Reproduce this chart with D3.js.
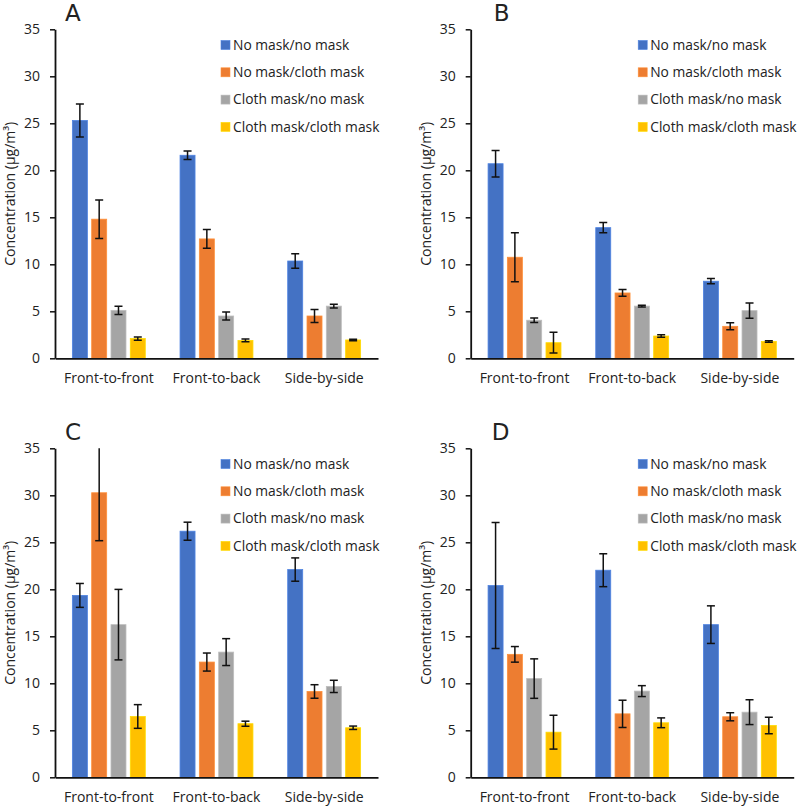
<!DOCTYPE html>
<html>
<head>
<meta charset="utf-8">
<script src="https://cdn.jsdelivr.net/npm/d3@7"></script>
<style>
  body { margin: 0; background: #fff; }
  text { font-family: "Open Sans", "Noto Sans", sans-serif; fill: #222; }
</style>
</head>
<body>
<div id="chart"></div>
<script>
// categories and series
var categories = ["Front-to-front", "Front-to-back", "Side-by-side"];
var seriesNames = ["No mask/no mask", "No mask/cloth mask", "Cloth mask/no mask", "Cloth mask/cloth mask"];
var colors = ["#4472C4", "#ED7D31", "#A5A5A5", "#FFC000"];
var yTicks = [0, 5, 10, 15, 20, 25, 30, 35];

// values per series (rows) x category (cols), with +/- error
var valuesA = [[25.3, 21.6, 10.35], [14.8, 12.7, 4.5], [5.1, 4.5, 5.55], [2.1, 1.9, 1.95]];
var errorsA = [[1.75, 0.45, 0.77], [2.05, 1.0, 0.7], [0.45, 0.43, 0.2], [0.17, 0.15, 0.08]];

var valuesB = [[20.7, 13.9, 8.2], [10.75, 6.95, 3.4], [4.05, 5.55, 5.07], [1.66, 2.37, 1.8]];
var errorsB = [[1.4, 0.55, 0.28], [2.6, 0.36, 0.37], [0.23, 0.1, 0.8], [1.1, 0.13, 0.08]];

var valuesC = [[19.35, 26.18, 22.1], [30.27, 12.26, 9.13], [16.24, 13.32, 9.67], [6.47, 5.7, 5.27]];
var errorsC = [[1.27, 0.96, 1.24], [5.1, 0.96, 0.72], [3.75, 1.43, 0.65], [1.26, 0.27, 0.18]];

var valuesD = [[20.4, 22.03, 16.24], [13.08, 6.75, 6.44], [10.5, 9.17, 6.93], [4.8, 5.8, 5.52]];
var errorsD = [[6.7, 1.75, 2.0], [0.83, 1.45, 0.43], [2.1, 0.58, 1.32], [1.8, 0.52, 0.88]];

var panels = [
  {letter: "A", left: 55, top: 29.3, letterX: 10, legendX: 166, values: valuesA, errors: errorsA},
  {letter: "B", left: 470.7, top: 29.3, letterX: 23, legendX: 167.5, values: valuesB, errors: errorsB},
  {letter: "C", left: 55, top: 448.3, letterX: 10, legendX: 166, values: valuesC, errors: errorsC},
  {letter: "D", left: 470.7, top: 448.3, letterX: 21, legendX: 167.5, values: valuesD, errors: errorsD}
];

var w_chart = 323, h_chart = 329;

var svg = d3.select("#chart").append("svg")
  .attr("width", 800)
  .attr("height", 806);

var defs = svg.append("defs");
defs.append("clipPath").attr("id", "plotClip")
  .append("rect").attr("x", -5).attr("y", 0).attr("width", w_chart + 10).attr("height", h_chart);

var x0 = d3.scaleBand().domain(categories).range([0, w_chart]).paddingInner(0).paddingOuter(0);
var x1 = d3.scaleBand().domain(d3.range(seriesNames.length)).range([0, x0.bandwidth()])
  .paddingInner(0.223).paddingOuter(0.9);
var y = d3.scaleLinear().domain([0, 35]).range([h_chart, 0]);

panels.forEach(function(p) {
  var g = svg.append("g").attr("transform", "translate(" + p.left + "," + p.top + ")");

  // flatten
  var rows = [];
  p.values.forEach(function(vals, s) {
    vals.forEach(function(v, c) {
      rows.push({s: s, cat: categories[c], v: v, e: p.errors[s][c]});
    });
  });

  // bars
  g.append("g").selectAll("rect")
    .data(rows)
    .join("rect")
    .attr("x", d => x0(d.cat) + x1(d.s))
    .attr("y", d => y(d.v))
    .attr("width", x1.bandwidth())
    .attr("height", d => y(0) - y(d.v))
    .style("fill", d => colors[d.s])
    .style("stroke", d => d3.color(colors[d.s]).brighter(0.4))
    .style("stroke-width", 0.8);

  // error bars
  var eb = g.append("g").attr("clip-path", "url(#plotClip)")
    .selectAll("g").data(rows).join("g")
    .attr("transform", d => "translate(" + (x0(d.cat) + x1(d.s) + x1.bandwidth() / 2) + ",0)");
  eb.append("line")
    .attr("y1", d => y(d.v + d.e)).attr("y2", d => y(d.v - d.e))
    .attr("stroke", "#111").attr("stroke-width", 1.5);
  eb.append("line")
    .attr("x1", -4).attr("x2", 4)
    .attr("y1", d => y(d.v + d.e)).attr("y2", d => y(d.v + d.e))
    .attr("stroke", "#111").attr("stroke-width", 1.5);
  eb.append("line")
    .attr("x1", -4).attr("x2", 4)
    .attr("y1", d => y(d.v - d.e)).attr("y2", d => y(d.v - d.e))
    .attr("stroke", "#111").attr("stroke-width", 1.5);

  // y axis
  var yAxis = g.append("g").attr("class", "axis")
    .call(d3.axisLeft(y).tickValues(yTicks).tickSize(5).tickSizeOuter(0).tickPadding(10));
  yAxis.select(".domain").attr("stroke", "#111").attr("stroke-width", 1.8);
  yAxis.selectAll(".tick line").attr("stroke", "#111").attr("stroke-width", 1.5);
  yAxis.selectAll(".tick text").style("font-size", "14px").style("fill", "#222")
    .style("font-family", "'Open Sans', sans-serif");

  // x axis
  var xAxis = g.append("g").attr("transform", "translate(0," + h_chart + ")")
    .call(d3.axisBottom(x0).tickSize(0).tickPadding(15));
  xAxis.select(".domain").attr("stroke", "#111").attr("stroke-width", 1.8);
  xAxis.selectAll(".tick text").style("font-size", "14px").style("fill", "#222")
    .style("font-family", "'Open Sans', sans-serif");

  // y title
  g.append("text")
    .attr("transform", "rotate(-90)")
    .attr("x", -h_chart / 2)
    .attr("y", -55 + 15)
    .style("text-anchor", "middle")
    .style("font-size", "14px")
    .text("Concentration (\u00b5g/m\u00b3)");

  // panel letter
  g.append("text")
    .attr("x", p.letterX)
    .attr("y", -8)
    .style("font-family", "'DejaVu Sans', sans-serif")
    .style("font-size", "23px")
    .text(p.letter);

  // legend
  var lg = g.append("g").attr("transform", "translate(" + p.legendX + ",15.7)");
  seriesNames.forEach(function(name, i) {
    lg.append("rect")
      .attr("x", 0).attr("y", i * 27.3 - 4.5)
      .attr("width", 9).attr("height", 9)
      .style("fill", colors[i])
      .style("stroke", d3.color(colors[i]).brighter(0.4))
      .style("stroke-width", 0.6);
    lg.append("text")
      .attr("x", 12).attr("y", i * 27.3)
      .attr("dy", "0.35em")
      .style("font-size", "13.8px")
      .text(name);
  });
});
</script>
</body>
</html>
